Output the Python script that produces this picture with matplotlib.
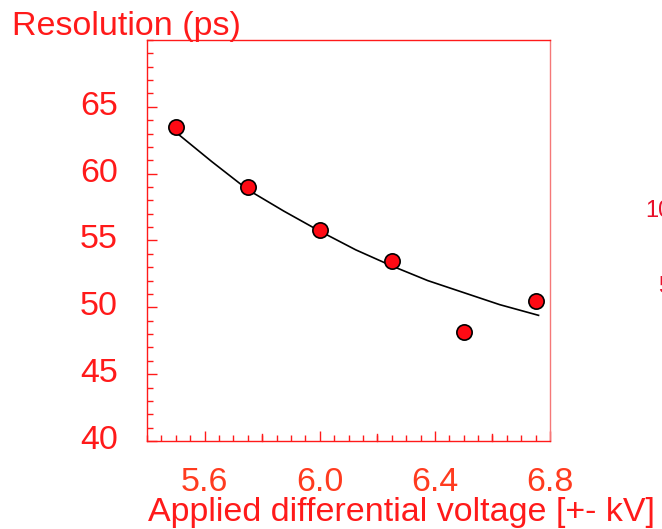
import matplotlib.pyplot as plt
import matplotlib.transforms as mtransforms
import numpy as np

plt.rcParams['font.family'] = ['Liberation Sans', 'DejaVu Sans']

# measured resolution vs applied voltage
voltage = [5.5, 5.75, 6.0, 6.25, 6.5, 6.75]
resolution = [63.5, 59.0, 55.8, 53.45, 48.15, 50.5]

fit_v = [5.5, 5.625, 5.75, 5.875, 6.0, 6.125, 6.25, 6.375, 6.5, 6.625, 6.76]
fit_r = [63.1, 60.9, 58.8, 57.2, 55.7, 54.3, 53.1, 52.0, 51.1, 50.2, 49.4]

xticks = [5.6, 6.0, 6.4, 6.8]
yticks = [40, 45, 50, 55, 60, 65]

red = '#ff1a1a'

fig = plt.figure(figsize=(6.62, 5.29), dpi=100)
ax = fig.add_axes([0.2221, 0.1664, 0.6088, 0.758])

ax.plot(fit_v, fit_r, color='black', lw=1.2, zorder=2)
ax.plot(voltage, resolution, 'o', ms=11, mfc='#ff0a14', mec='black', mew=1.2, zorder=3)

ax.set_xlim(5.4, 6.8)
ax.set_ylim(40, 70)

ax.set_xticks(xticks)
ax.set_xticks(np.arange(5.4, 6.81, 0.05), minor=True)
ax.set_yticks(yticks)
ax.set_yticks(np.arange(40, 70.1, 1), minor=True)

# unlabelled major ticks in between the labelled ones
for v in [5.8, 6.2, 6.6]:
    ax.plot([v, v], [40, 40 + 7 / 13.38], color=red, lw=1, clip_on=False)

ax.tick_params(which='both', direction='in', colors=red, top=False, right=False)
ax.tick_params(which='major', length=7, width=1, labelsize=24.5)
ax.tick_params(which='minor', length=4, width=1)
ax.tick_params(axis='y', pad=21)
ax.tick_params(axis='x', pad=19, labelcolor='#ff3b1f')

# y labels sit a little above their ticks
up = mtransforms.ScaledTranslation(0, 4 / 100, fig.dpi_scale_trans)
for lab in ax.get_yticklabels():
    lab.set_color(red)
    lab.set_transform(lab.get_transform() + up)

for side in ['left', 'bottom', 'top']:
    ax.spines[side].set_color(red)
    ax.spines[side].set_linewidth(1)
ax.spines['right'].set_color('#f57878')
ax.spines['right'].set_linewidth(1)

fig.text(12 / 662, 1 - 35 / 529, 'Resolution (ps)', color=red, fontsize=24.5,
         ha='left', va='baseline')
fig.text(148 / 662, 8 / 529, 'Applied differential voltage [+- kV]', color=red,
         fontsize=24.5, ha='left', va='baseline')

# edge of the neighbouring panel
fig.text(645 / 662, 1 - 217 / 529, '10', color='#e8102a', fontsize=17,
         ha='left', va='baseline')
fig.text(658 / 662, 1 - 293 / 529, '5', color='#e8102a', fontsize=17,
         ha='left', va='baseline')

fig.savefig('out.png', dpi=100)
